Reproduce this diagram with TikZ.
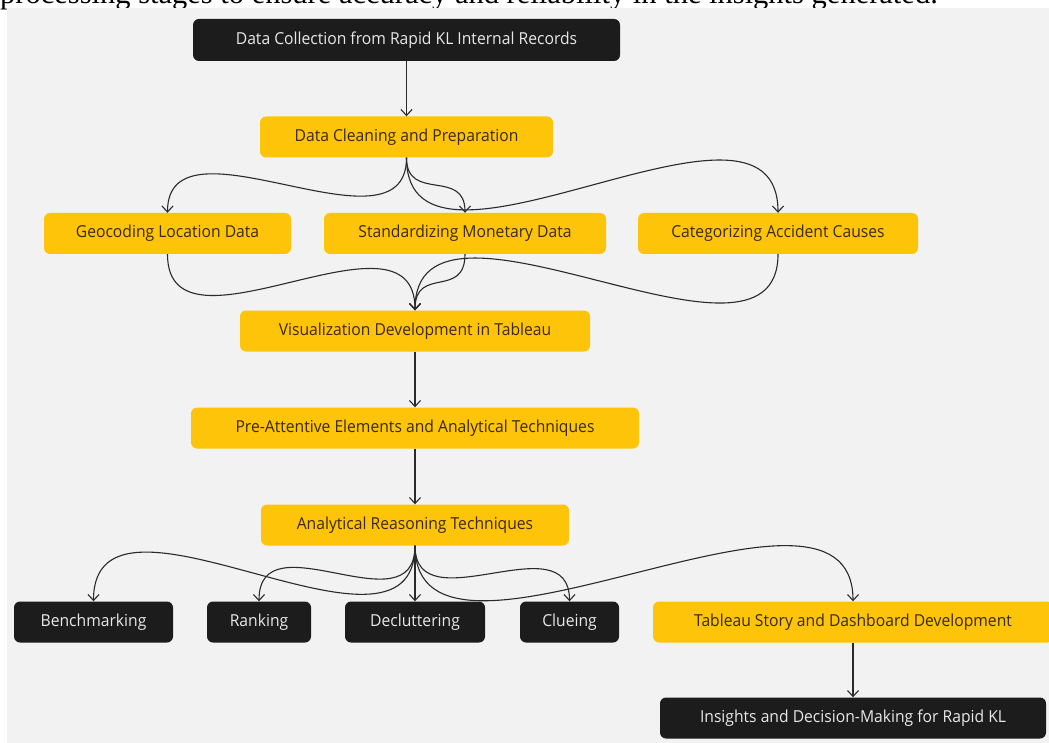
\documentclass[tikz,border=0pt]{standalone}
\usepackage{fontspec}
\setmainfont{Liberation Serif}
\newfontfamily\boxfont[FakeStretch=0.95]{Open Sans}
\usetikzlibrary{arrows.meta}
\definecolor{bg}{HTML}{F2F2F2}
\definecolor{ylw}{RGB}{254,196,10}
\definecolor{blk}{HTML}{1C1C1C}
\definecolor{ytxt}{HTML}{3A2A08}
\definecolor{btxt}{HTML}{E8E8E8}
\definecolor{ln}{HTML}{2A2A2A}
\begin{document}
\begin{tikzpicture}[x=1pt,y=-1pt,
 box/.style={rounded corners=6pt, minimum height=41pt, inner sep=0pt, font=\boxfont\fontsize{16.5}{19}\selectfont},
 ybox/.style={box, fill=ylw, text=ytxt},
 bbox/.style={box, fill=blk, text=btxt},
 conn/.style={draw=ln, line width=1.1pt, -{Straight Barb[length=6pt,width=11pt]}},
]
\useasboundingbox (0,0) rectangle (1049,743);
\clip (0,0) rectangle (1049,743);
\node[anchor=base west, inner sep=0pt, font=\fontsize{30.5}{34}\selectfont] (cap) at (0,4) {processing stages to ensure accuracy and reliability in the insights generated.};
\fill[bg] (7,8) rectangle (1049,743);

\node[bbox, minimum width=427pt, minimum height=42pt] (n1) at (406.5,40) {Data Collection from Rapid KL Internal Records};
\node[ybox, minimum width=293pt] (dc) at (406.5,137) {Data Cleaning and Preparation};
\node[ybox, minimum width=247pt] (geo) at (167.5,233.5) {Geocoding Location Data};
\node[ybox, minimum width=282pt] (std) at (465,233.5) {Standardizing Monetary Data};
\node[ybox, minimum width=280pt] (cat) at (778,233.5) {Categorizing Accident Causes};
\node[ybox, minimum width=350pt] (vis) at (415,331) {Visualization Development in Tableau};
\node[ybox, minimum width=448pt] (pre) at (415,428) {Pre-Attentive Elements and Analytical Techniques};
\node[ybox, minimum width=308pt] (ana) at (415,525) {Analytical Reasoning Techniques};
\node[bbox, minimum width=159pt] (bench) at (93.5,622) {Benchmarking};
\node[bbox, minimum width=104pt] (rank) at (259,622) {Ranking};
\node[bbox, minimum width=140pt] (decl) at (415,622) {Decluttering};
\node[bbox, minimum width=99pt] (clue) at (569.5,622) {Clueing};
\node[ybox, minimum width=400pt] (tab) at (853,622) {Tableau Story and Dashboard Development};
\node[bbox, minimum width=386pt] (ins) at (853,718) {Insights and Decision-Making for Rapid KL};

\draw[conn] (n1.south) -- (dc.north);
\draw[conn] (dc.south) .. controls +(0,105) and +(0,-105) .. (geo.north);
\draw[conn] (dc.south) .. controls +(0,45) and +(0,-45) .. (std.north);
\draw[conn] (dc.south) .. controls +(0,155) and +(0,-155) .. (cat.north);
\draw[conn] (geo.south) .. controls +(0,115) and +(0,-115) .. (vis.north);
\draw[conn] (std.south) .. controls +(0,45) and +(0,-45) .. (vis.north);
\draw[conn] (cat.south) .. controls +(0,145) and +(0,-150) .. (vis.north);
\draw[conn] (vis.south) -- (pre.north);
\draw[conn] (pre.south) -- (ana.north);
\draw[conn] (ana.south) .. controls +(0,142) and +(0,-142) .. (bench.north);
\draw[conn] (ana.south) .. controls +(0,85) and +(0,-85) .. (rank.north);
\draw[conn] (ana.south) -- (decl.north);
\draw[conn] (ana.south) .. controls +(0,80) and +(0,-80) .. (clue.north);
\draw[conn] (ana.south) .. controls +(0,165) and +(0,-165) .. (tab.north);
\draw[conn] (tab.south) -- (ins.north);
\end{tikzpicture}
\end{document}
